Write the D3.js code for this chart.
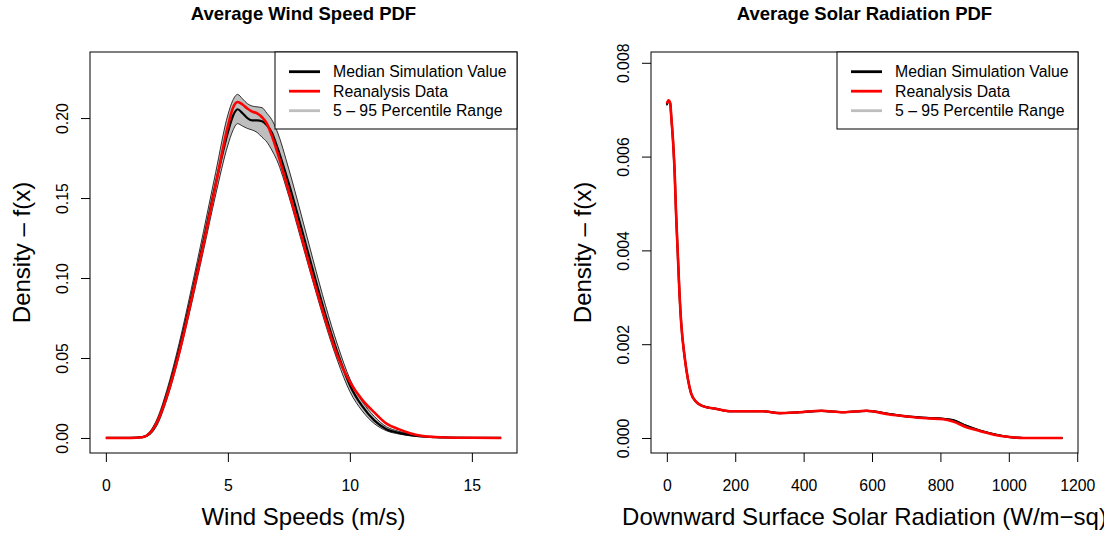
<!DOCTYPE html>
<html>
<head>
<meta charset="utf-8">
<script src="https://cdn.jsdelivr.net/npm/d3@7"></script>
<style>
  body { margin: 0; background: #fff; overflow: hidden; }
  svg text { font-family: "Liberation Sans", Arial, Helvetica, sans-serif; fill: #000; }
</style>
</head>
<body>
<div id="plot"></div>
<script>
// ---- wind speed panel ----
let windX = [0, 0.5, 1.0, 1.5, 1.8, 2.1, 2.5, 3.0, 3.5, 4.0, 4.5, 5.0, 5.2, 5.4, 5.6, 5.8, 6.0, 6.2, 6.4, 6.6, 6.8, 7.0, 7.5, 8.0, 8.5, 9.0, 9.5, 10.0, 10.5, 11.0, 11.5, 12.0, 12.5, 13.0, 13.5, 14.0, 15.0, 16.2];
let windReanalysis = [0, 0, 0, 0.0005, 0.003, 0.010, 0.026, 0.053, 0.086, 0.121, 0.158, 0.195, 0.206, 0.210, 0.2085, 0.206, 0.204, 0.203, 0.2005, 0.1965, 0.189, 0.180, 0.154, 0.127, 0.0995, 0.074, 0.051, 0.035, 0.024, 0.016, 0.009, 0.0055, 0.0028, 0.0012, 0.0006, 0.0003, 0.0001, 0];
let windMedian = [0, 0, 0, 0.0005, 0.003, 0.010, 0.027, 0.055, 0.088, 0.123, 0.159, 0.191, 0.201, 0.2055, 0.203, 0.200, 0.1985, 0.1985, 0.198, 0.1955, 0.191, 0.183, 0.159, 0.132, 0.104, 0.077, 0.053, 0.033, 0.020, 0.011, 0.0055, 0.0032, 0.0018, 0.0009, 0.0005, 0.0003, 0.0001, 0];
let windP95 = [0, 0, 0, 0.0008, 0.004, 0.012, 0.030, 0.059, 0.093, 0.129, 0.166, 0.202, 0.211, 0.2148, 0.212, 0.209, 0.2075, 0.207, 0.2065, 0.203, 0.199, 0.1925, 0.168, 0.140, 0.111, 0.083, 0.058, 0.037, 0.023, 0.0135, 0.007, 0.0042, 0.0024, 0.0012, 0.0006, 0.0003, 0.0001, 0];
let windP05 = [0, 0, 0, 0.0003, 0.002, 0.008, 0.024, 0.051, 0.083, 0.117, 0.152, 0.183, 0.192, 0.1965, 0.195, 0.1935, 0.1925, 0.191, 0.188, 0.185, 0.180, 0.174, 0.151, 0.124, 0.097, 0.071, 0.048, 0.029, 0.017, 0.009, 0.0045, 0.0025, 0.0013, 0.0006, 0.0003, 0.0001, 0, 0];
let windTicksX = [0, 5, 10, 15];
let windTicksY = [0, 0.05, 0.10, 0.15, 0.20];
let windTickLabelsY = ["0.00", "0.05", "0.10", "0.15", "0.20"];

// ---- solar radiation panel ----
let solarX = [0, 5, 10, 13, 18, 23, 27, 32, 37, 42, 52, 62, 71, 86, 105, 145, 184, 242, 281, 330, 388, 452, 515, 584, 652, 700, 759, 808, 837, 876, 915, 964, 1003, 1042, 1100, 1157];
let solarReanalysis = [0.00713, 0.00720, 0.00714, 0.00685, 0.00635, 0.00564, 0.00479, 0.00394, 0.00308, 0.00245, 0.00173, 0.00124, 0.00095, 0.00077, 0.00068, 0.00062, 0.00057, 0.00057, 0.00057, 0.00053, 0.00055, 0.00058, 0.00055, 0.00058, 0.00050, 0.00046, 0.00042, 0.00040, 0.00035, 0.00023, 0.00015, 0.00006, 0.00002, 0, 0, 0];
let solarMedian = [0.00711, 0.00718, 0.00713, 0.00684, 0.00634, 0.00563, 0.00478, 0.00393, 0.00308, 0.00245, 0.00173, 0.00124, 0.00095, 0.00077, 0.00068, 0.00062, 0.00057, 0.00057, 0.00057, 0.00053, 0.00055, 0.00058, 0.00055, 0.00058, 0.00051, 0.00046, 0.00043, 0.00041, 0.00038, 0.00026, 0.00016, 0.00007, 0.00002, 0, 0, 0];
let solarP95 = [0.00713, 0.00720, 0.00715, 0.00686, 0.00636, 0.00565, 0.00480, 0.00395, 0.00310, 0.00247, 0.00175, 0.00126, 0.00097, 0.00078, 0.00069, 0.00063, 0.00058, 0.00058, 0.00058, 0.00054, 0.00056, 0.00059, 0.00056, 0.00059, 0.00052, 0.00047, 0.00044, 0.00042, 0.00039, 0.00027, 0.00017, 0.00008, 0.00003, 0.00001, 0, 0];
let solarP05 = [0.00709, 0.00716, 0.00711, 0.00682, 0.00632, 0.00561, 0.00476, 0.00391, 0.00306, 0.00243, 0.00171, 0.00122, 0.00093, 0.00076, 0.00067, 0.00061, 0.00056, 0.00056, 0.00056, 0.00052, 0.00054, 0.00057, 0.00054, 0.00057, 0.00050, 0.00045, 0.00042, 0.00040, 0.00037, 0.00025, 0.00015, 0.00006, 0.00001, 0, 0, 0];
let solarTicksX = [0, 200, 400, 600, 800, 1000, 1200];
let solarTicksY = [0, 0.002, 0.004, 0.006, 0.008];
let solarTickLabelsY = ["0.000", "0.002", "0.004", "0.006", "0.008"];

let legendLabels = ["Median Simulation Value", "Reanalysis Data", "5 \u2013 95 Percentile Range"];
let legendColors = ["#000000", "#ff0000", "#bebebe"];

let svgWidth = 1104;
let svgHeight = 535;
let fs = 15.8; // base font size
let labFs = 24; // axis titles

let svg = d3.select('#plot')
    .append('svg')
    .attr('width', svgWidth)
    .attr('height', svgHeight);

function drawPanel(p){
    let x = d3.scaleLinear().domain(p.xlim).range([p.left, p.right]);
    let y = d3.scaleLinear().domain(p.ylim).range([p.bottom, p.top]);
    let g = svg.append('g');

    let rows = p.xs.map((v, i) => ({x: v, med: p.med[i], rea: p.rea[i], lo: p.lo[i], hi: p.hi[i]}));

    // percentile band
    g.append('path')
        .datum(rows)
        .attr('d', d3.area().curve(d3.curveMonotoneX)
            .x(d => x(d.x)).y0(d => y(d.lo)).y1(d => y(d.hi)))
        .attr('fill', '#bebebe')
        .attr('stroke', '#000')
        .attr('stroke-width', 0.8);

    g.append('path')
        .datum(rows)
        .attr('d', d3.line().curve(d3.curveMonotoneX).x(d => x(d.x)).y(d => y(d.med)))
        .attr('fill', 'none')
        .attr('stroke', '#000')
        .attr('stroke-width', 2.2);

    g.append('path')
        .datum(rows)
        .attr('d', d3.line().curve(d3.curveMonotoneX).x(d => x(d.x)).y(d => y(d.rea)))
        .attr('fill', 'none')
        .attr('stroke', '#ff0000')
        .attr('stroke-width', 2.6);

    // x axis
    let xAxis = g.append('g')
        .attr('transform', `translate(0,${p.bottom})`)
        .call(d3.axisBottom(x).tickValues(p.ticksX).tickFormat(d3.format('d')).tickSize(9).tickPadding(18));
    xAxis.select('.domain').remove();
    xAxis.selectAll('line').attr('stroke', '#000');
    xAxis.selectAll('text').attr('font-size', fs).attr('font-family', null);

    // y axis, labels parallel to the axis
    let yAxis = g.append('g')
        .attr('transform', `translate(${p.left},0)`)
        .call(d3.axisLeft(y).tickValues(p.ticksY).tickFormat((d, i) => p.labelsY[i]).tickSize(9));
    yAxis.select('.domain').remove();
    yAxis.selectAll('line').attr('stroke', '#000');
    yAxis.selectAll('text')
        .attr('font-size', fs)
        .attr('font-family', null)
        .attr('x', null)
        .attr('dy', '0.35em')
        .attr('text-anchor', 'middle')
        .attr('transform', 'translate(-28,0) rotate(-90)');

    // box
    g.append('rect')
        .attr('x', p.left).attr('y', p.top)
        .attr('width', p.right - p.left).attr('height', p.bottom - p.top)
        .attr('fill', 'none').attr('stroke', '#000').attr('stroke-width', 1);

    let cx = (p.left + p.right) / 2;
    let cy = (p.top + p.bottom) / 2;

    g.append('text')
        .attr('x', cx).attr('y', 19.5)
        .attr('text-anchor', 'middle')
        .attr('font-weight', 'bold')
        .attr('font-size', 18.5)
        .text(p.title);

    g.append('text')
        .attr('x', cx).attr('y', 525)
        .attr('text-anchor', 'middle')
        .attr('font-size', labFs)
        .text(p.xlab);

    g.append('text')
        .attr('transform', `translate(${p.left - 68},${cy}) rotate(-90)`)
        .attr('dy', '0.35em')
        .attr('text-anchor', 'middle')
        .attr('font-size', labFs)
        .text('Density \u2013 f(x)');

    // legend
    let lg = g.append('g');
    lg.append('rect')
        .attr('x', p.legendX).attr('y', p.top)
        .attr('width', p.right - p.legendX).attr('height', 77)
        .attr('fill', '#fff').attr('stroke', '#000').attr('stroke-width', 1);
    legendLabels.forEach((lab, i) => {
        let ly = 71.7 + i * 19.5;
        lg.append('line')
            .attr('x1', p.legendX + 14).attr('x2', p.legendX + 45)
            .attr('y1', ly).attr('y2', ly)
            .attr('stroke', legendColors[i]).attr('stroke-width', 2.8);
        lg.append('text')
            .attr('x', p.legendX + 58).attr('y', ly)
            .attr('dy', '0.35em')
            .attr('font-size', fs)
            .text(lab);
    });
}

drawPanel({
    xs: windX, med: windMedian, rea: windReanalysis, lo: windP05, hi: windP95,
    xlim: [-0.65, 16.85], ylim: [-0.0094, 0.2413],
    left: 90, right: 517, top: 52, bottom: 453,
    ticksX: windTicksX, ticksY: windTicksY, labelsY: windTickLabelsY,
    title: 'Average Wind Speed PDF', xlab: 'Wind Speeds (m/s)',
    legendX: 275
});

drawPanel({
    xs: solarX, med: solarMedian, rea: solarReanalysis, lo: solarP05, hi: solarP95,
    xlim: [-46.3, 1202.3], ylim: [-0.00032, 0.00823],
    left: 651, right: 1078, top: 52, bottom: 453,
    ticksX: solarTicksX, ticksY: solarTicksY, labelsY: solarTickLabelsY,
    title: 'Average Solar Radiation PDF', xlab: 'Downward Surface Solar Radiation (W/m\u2212sq)',
    legendX: 837
});
</script>
</body>
</html>
